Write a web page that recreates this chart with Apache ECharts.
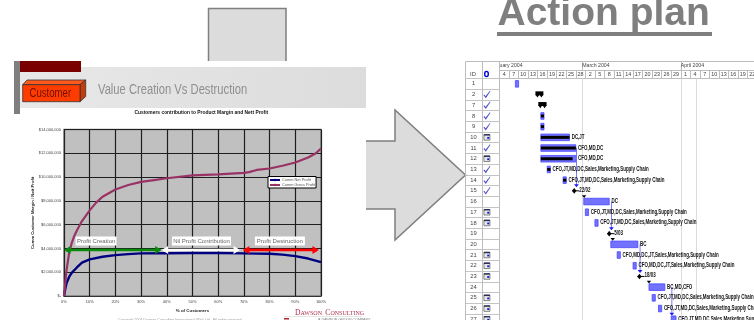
<!DOCTYPE html>
<html>
<head>
<meta charset="utf-8">
<style>html,body{margin:0;padding:0;background:#fff;overflow:hidden}#c{width:754px;height:320px}</style>
<script src="https://cdn.jsdelivr.net/npm/echarts@6/dist/echarts.min.js"></script>
</head>
<body>
<div id="c"></div>
<script>
// Cumulative profit curves (x: % of customers, y: millions of dollars)
const netPct = [0, 0.5, 1, 2, 3, 5, 7, 10, 15, 20, 25, 30, 40, 50, 60, 70, 75, 80, 85, 90, 95, 100];
const netVal = [0, 0.6, 1.1, 1.6, 1.95, 2.4, 2.8, 3.08, 3.3, 3.44, 3.52, 3.58, 3.6, 3.62, 3.62, 3.58, 3.56, 3.55, 3.48, 3.35, 3.15, 2.85];
const grossPct = [0, 1, 2, 3, 4, 5, 7, 10, 12.5, 15, 20, 25, 30, 35, 40, 50, 60, 70, 72, 75, 80, 85, 90, 95, 98, 100];
const grossVal = [0, 2.2, 3.6, 4.45, 5.05, 5.5, 6.3, 7.2, 7.85, 8.35, 8.96, 9.33, 9.6, 9.75, 9.9, 10.14, 10.22, 10.36, 10.42, 10.6, 10.72, 10.95, 11.23, 11.65, 12.0, 12.4];
const moneyTicks = ['$-', '$2,000,000', '$4,000,000', '$6,000,000', '$8,000,000', '$10,000,000', '$12,000,000', '$14,000,000'];

// Profit zones along the curve
const zoneNames = ['Profit Creation', 'Nil Profit Contribution', 'Profit Destruction'];
const zoneFrom = [0, 38, 69.6];
const zoneTo = [38, 68.5, 99.2];
const zoneTextAt = [12.5, 53.5, 84];
const zoneColors = ['#0a8a0a', '#ffffff', '#ff0000'];
const zoneLevel = 3.87;

// Action plan rows and timeline
const rowIds = ['1','2','7','8','9','10','11','12','13','14','15','16','17','18','19','20','21','22','23','24','25','26','27'];
const doneRows = ['2','7','8','9','11','13','14','15'];
const scheduledRows = ['10','12','17','18','21','22','23','25','26','27'];
const dayCells = ['4','7','10','13','16','19','22','25','28','2','5','8','11','14','17','20','23','26','29','1','4','7','10','13','16','19','22'];
const monthNames = ['uary 2004', 'March 2004', 'April 2004'];
const monthStarts = [0, 26, 57];
const markerLines = [26, 57, 62];

const ALL = 'CFO,JT,MD,DC,Sales,Marketing,Supply Chain';
const ALT = 'CFO,MD,DC,JT,Sales,Marketing,Supply Chain';
const taskRows = ['1','8','9','10','11','12','13','14','16','17','18','20','21','22','24','25','26','27'];
const taskStart = [5, 13, 13, 13, 13, 13, 15, 20, 26.5, 27, 30, 35, 37, 42, 47, 48, 50, 54];
const taskEnd = [6, 14, 14, 22, 24, 24, 16, 21, 34.5, 28, 31, 43.5, 38, 43, 52, 49, 51, 55.5];
const taskDone = [0, 14, 14, 22, 24, 23, 16, 21, 0, 0, 0, 0, 0, 0, 0, 0, 0, 0];
const taskOwners = ['', '', '', 'DC,JT', 'CFO,MD,DC', 'CFO,MD,DC', ALL, ALL, 'DC', ALL, ALL, 'BC', ALT, ALT, 'BC,MD,CFO', ALL, ALL, ALL];
const summaryRows = ['2', '7'];
const summaryStart = [11.3, 12.2];
const summaryEnd = [13.8, 14.8];
const milestoneRows = ['15', '19', '23'];
const milestoneDays = [23.5, 34.5, 44];
const milestoneDates = ['22/02', '5/03', '18/03'];
const linkFrom = ['11', '16', '20', '24'];
const linkTo = ['15', '19', '23', '27'];
const linkDay = [24.2, 35.2, 44.2, 54.2];
const successorRows = ['16', '20', '24'];
const successorDays = [26.6, 35.6, 47];

const SANS = '"Liberation Sans",Arial,sans-serif';
const rowIdx = id => rowIds.indexOf(id);
const poly = (points, fill, stroke) => ({ type: 'polygon', shape: { points }, style: { fill, stroke: stroke || null, lineWidth: 1 } });
// Text squeezed horizontally so long resource lists fit the compact schedule
const squeezed = (text, x, y, font, fill, scaleX) => ({
  type: 'text', x, y, scaleX, style: { text, x: 0, y: 0, align: 'left', verticalAlign: 'middle', font, fill }
});

function renderZones(params, api) {
  const i = params.dataIndex;
  const a = api.coord([zoneFrom[i], zoneLevel]);
  const b = api.coord([zoneTo[i], zoneLevel]);
  const c = api.coord([zoneTextAt[i], zoneLevel]);
  const col = zoneColors[i];
  const w = [41, 59, 50][i];
  return { type: 'group', children: [
    { type: 'rect', shape: { x: a[0] + 2, y: a[1] - 1.3, width: b[0] - a[0] - 4, height: 2.6 }, style: { fill: col } },
    poly([[a[0], a[1]], [a[0] + 6.5, a[1] - 4], [a[0] + 6.5, a[1] + 4]], col),
    poly([[b[0], b[1]], [b[0] - 6.5, b[1] - 4], [b[0] - 6.5, b[1] + 4]], col),
    { type: 'rect', shape: { x: c[0] - w / 2, y: c[1] - 13.5, width: w, height: 9 }, style: { fill: '#fff' } },
    { type: 'text', style: { text: zoneNames[i], x: c[0], y: c[1] - 9, align: 'center', verticalAlign: 'middle', font: '6px ' + SANS, fill: '#666' } }
  ] };
}

function renderTasks(params, api) {
  const i = params.dataIndex;
  const s = api.coord([taskStart[i], rowIdx(taskRows[i])]);
  const e = api.coord([taskEnd[i], rowIdx(taskRows[i])]);
  const kids = [{ type: 'rect', shape: { x: s[0], y: s[1] - 3.3, width: e[0] - s[0], height: 6.6 }, style: { fill: '#7272ff', stroke: '#4a4aff', lineWidth: 0.8 } }];
  if (taskDone[i]) {
    const d = api.coord([taskDone[i], rowIdx(taskRows[i])]);
    kids.push({ type: 'rect', shape: { x: s[0], y: s[1] - 1.5, width: d[0] - s[0], height: 3 }, style: { fill: '#000' } });
  }
  if (taskOwners[i]) {
    kids.push(squeezed(taskOwners[i], e[0] + 2.2, s[1] - 0.5, 'bold 7.2px ' + SANS, '#111', 0.62));
  }
  return { type: 'group', children: kids };
}

function renderSummaries(params, api) {
  const i = params.dataIndex;
  const s = api.coord([summaryStart[i], rowIdx(summaryRows[i])]);
  const e = api.coord([summaryEnd[i], rowIdx(summaryRows[i])]);
  const y = s[1];
  return { type: 'group', children: [
    { type: 'rect', shape: { x: s[0], y: y - 3.2, width: e[0] - s[0], height: 4 }, style: { fill: '#000' } },
    poly([[s[0], y], [s[0] + 4, y], [s[0] + 2, y + 3]], '#000'),
    poly([[e[0] - 4, y], [e[0], y], [e[0] - 2, y + 3]], '#000')
  ] };
}

function renderMilestones(params, api) {
  const i = params.dataIndex;
  const p = api.coord([milestoneDays[i], rowIdx(milestoneRows[i])]);
  return { type: 'group', children: [
    { type: 'rect', shape: { x: p[0] - 2, y: p[1] - 0.5, width: 7, height: 1 }, style: { fill: '#000' } },
    poly([[p[0], p[1] - 2.8], [p[0] + 2.2, p[1]], [p[0], p[1] + 2.8], [p[0] - 2.2, p[1]]], '#000'),
    squeezed(milestoneDates[i], p[0] + 5, p[1] - 1, 'bold 7px ' + SANS, '#111', 0.64)
  ] };
}

function renderLinks(params, api) {
  const i = params.dataIndex;
  const a = api.coord([linkDay[i], rowIdx(linkFrom[i])]);
  const b = api.coord([linkDay[i], rowIdx(linkTo[i])]);
  const tip = b[1] - 3.5;
  return { type: 'group', children: [
    { type: 'rect', shape: { x: a[0] - 0.4, y: a[1], width: 0.8, height: tip - a[1] - 2 }, style: { fill: '#5a5aff' } },
    poly([[a[0] - 2.4, tip - 3], [a[0] + 2.4, tip - 3], [a[0], tip]], '#1a1aff')
  ] };
}

function renderSuccessors(params, api) {
  const i = params.dataIndex;
  const p = api.coord([successorDays[i], rowIdx(successorRows[i])]);
  const tip = p[1] - 3.6;
  return poly([[p[0] - 2.2, tip - 2.8], [p[0] + 2.2, tip - 2.8], [p[0], tip]], '#000');
}

function renderCalendars(params, api) {
  const p = api.coord([0.26, rowIdx(scheduledRows[params.dataIndex])]);
  return { type: 'group', children: [
    { type: 'rect', shape: { x: p[0] - 3, y: p[1] - 2.8, width: 6, height: 5.6 }, style: { fill: '#e8e8e8', stroke: '#555', lineWidth: 0.7 } },
    { type: 'rect', shape: { x: p[0] - 3, y: p[1] - 3.2, width: 6, height: 1.4 }, style: { fill: '#2b2b5a' } },
    { type: 'rect', shape: { x: p[0] + 0.3, y: p[1] - 0.4, width: 2, height: 1.8 }, style: { fill: '#1111dd' } }
  ] };
}

const rowsOf = ids => ids.map((_, i) => [i]);
const gantt = { xAxisIndex: 1, yAxisIndex: 1, type: 'custom', clip: false, silent: true };

const chart = echarts.init(document.getElementById('c'), null, { renderer: 'canvas' });
const GREY = '#7f7f7f';
chart.setOption({
  animation: false,
  backgroundColor: '#fff',
  textStyle: { fontFamily: SANS },
  title: {
    text: 'Customers contribution to Product Margin and Nett Profit',
    left: 134.5, top: 110, padding: 0,
    textStyle: { fontSize: 4.9, fontWeight: 'bold', color: '#111', lineHeight: 6 }
  },
  legend: {
    left: 268, top: 176.5, orient: 'vertical', padding: [1.5, 1, 1, 1], itemGap: 1,
    itemWidth: 10, itemHeight: 3, backgroundColor: '#fff', borderColor: '#000', borderWidth: 1,
    textStyle: { fontSize: 3.9, color: '#555', padding: [0, 0, 0, -3] },
    data: ['Cumm Net Profit', 'Cumm Gross Profit']
  },
  grid: [
    { left: 64, top: 129.5, width: 257, height: 166.5, show: true, backgroundColor: '#c0c0c0', borderColor: GREY, borderWidth: 1.5, outerBoundsMode: 'none' },
    { left: 499.5, top: 78.5, width: 257.6, height: 246.1, outerBoundsMode: 'none' },
    { left: 482.5, top: 78.5, width: 17, height: 246.1, outerBoundsMode: 'none' }
  ],
  xAxis: [
    { type: 'value', gridIndex: 0, min: 0, max: 100, interval: 10,
      name: '% of Customers', nameLocation: 'middle', nameGap: 10.5,
      nameTextStyle: { fontSize: 4.4, fontWeight: 'bold', color: '#222' },
      axisLine: { lineStyle: { color: '#333', width: 1 } },
      axisTick: { show: false },
      axisLabel: { fontSize: 4, color: '#444', margin: 4, formatter: v => v + '%' },
      splitLine: { lineStyle: { color: '#1e1e1e', width: 1.2 } } },
    { type: 'value', gridIndex: 1, min: 0, max: 81, show: false },
    { type: 'category', gridIndex: 1, position: 'top', data: dayCells, boundaryGap: true,
      axisLine: { lineStyle: { color: '#bdbdbd', width: 1 } },
      axisTick: { show: true, length: 8, lineStyle: { color: '#bdbdbd' } },
      axisLabel: { interval: 0, fontSize: 5.4, color: '#444', margin: 1.5 } },
    { type: 'value', gridIndex: 1, position: 'top', offset: 8.5, min: 0, max: 81,
      axisLine: { show: true, lineStyle: { color: '#bdbdbd', width: 1 } },
      axisTick: { show: true, length: 8.5, customValues: monthStarts, lineStyle: { color: '#bdbdbd' } },
      axisLabel: { show: true, customValues: monthStarts, align: 'left', margin: 1.5, fontSize: 5.2, color: '#444',
        formatter: v => monthNames[monthStarts.indexOf(v)] },
      splitLine: { show: false } },
    { type: 'value', gridIndex: 2, min: 0, max: 1, show: false }
  ],
  yAxis: [
    { type: 'value', gridIndex: 0, min: 0, max: 14, interval: 2,
      name: 'Cumm Customer Margin / Nett Profit', nameLocation: 'middle', nameGap: 28,
      nameTextStyle: { fontSize: 4.2, fontWeight: 'bold', color: '#222' },
      axisLine: { show: true, lineStyle: { color: '#222' } },
      axisTick: { show: false },
      axisLabel: { fontSize: 4, color: '#444', margin: 3, formatter: v => moneyTicks[v / 2] },
      splitLine: { lineStyle: { color: '#1e1e1e', width: 1.2 } } },
    { type: 'category', gridIndex: 1, inverse: true, data: rowIds, boundaryGap: true,
      axisLine: { show: false },
      axisTick: { show: true, length: 34, lineStyle: { color: '#c4c4c4' } },
      axisLabel: { interval: 0, align: 'center', margin: 26, fontSize: 5.8, color: '#444' } },
    { type: 'category', gridIndex: 2, inverse: true, data: rowIds, show: false }
  ],
  series: [
    { name: 'Cumm Net Profit', type: 'line', xAxisIndex: 0, yAxisIndex: 0, symbol: 'none', z: 3,
      lineStyle: { color: '#000080', width: 2.4 }, itemStyle: { color: '#000080' },
      data: netPct.map((x, i) => [x, netVal[i]]) },
    { name: 'Cumm Gross Profit', type: 'line', xAxisIndex: 0, yAxisIndex: 0, symbol: 'none', z: 3,
      lineStyle: { color: '#993366', width: 2.2 }, itemStyle: { color: '#993366' },
      data: grossPct.map((x, i) => [x, grossVal[i]]) },
    { type: 'custom', xAxisIndex: 0, yAxisIndex: 0, z: 4, clip: false, silent: true, renderItem: renderZones, data: rowsOf(zoneNames) },

    { ...gantt, z: 2, renderItem: renderLinks, data: rowsOf(linkFrom),
      markLine: { silent: true, z: 1, symbol: 'none', label: { show: false }, lineStyle: { color: '#dcdcdc', width: 1, type: 'solid' },
        data: markerLines.map(x => ({ xAxis: x })) } },
    { ...gantt, z: 3, renderItem: renderTasks, data: rowsOf(taskRows) },
    { ...gantt, z: 3, renderItem: renderSummaries, data: rowsOf(summaryRows) },
    { ...gantt, z: 4, renderItem: renderMilestones, data: rowsOf(milestoneRows) },
    { ...gantt, z: 4, renderItem: renderSuccessors, data: rowsOf(successorRows) },

    { type: 'scatter', xAxisIndex: 4, yAxisIndex: 2, silent: true, symbol: 'path://M0 6 L1.2 5 L2.6 7.4 L8 0 L8.6 .6 L3 10 Z', symbolSize: [7, 7.5],
      itemStyle: { color: '#2222bb' }, data: doneRows.map(r => [0.26, rowIdx(r)]) },
    { type: 'custom', xAxisIndex: 4, yAxisIndex: 2, clip: false, silent: true, renderItem: renderCalendars, data: rowsOf(scheduledRows) }
  ],
  graphic: { elements: [
    // box above the slide heading
    { type: 'rect', z: 1, shape: { x: 208.5, y: 8.5, width: 77.5, height: 52.5 }, style: { fill: '#dcdcdc' } },
    { type: 'polyline', z: 1, shape: { points: [[208.5, 61], [208.5, 8.5], [286, 8.5], [286, 61]] }, style: { fill: 'none', stroke: GREY, lineWidth: 1.5 } },
    // slide heading band
    { type: 'rect', z: 1, shape: { x: 14, y: 61, width: 6, height: 53 }, style: { fill: '#7f7f7f' } },
    { type: 'rect', z: 1, shape: { x: 20, y: 67, width: 346, height: 41 },
      style: { fill: new echarts.graphic.LinearGradient(0, 0, 1, 0, [{ offset: 0, color: '#e8e8e8' }, { offset: 1, color: '#dcdcdc' }]) } },
    { type: 'rect', z: 1, shape: { x: 20, y: 61, width: 61, height: 11 }, style: { fill: '#7a0000' } },
    { type: 'polygon', z: 1, shape: { points: [[22.7, 84.7], [27, 80], [85.7, 80], [80, 84.7]] }, style: { fill: '#ff5a1e', stroke: '#333', lineWidth: 0.8 } },
    { type: 'polygon', z: 1, shape: { points: [[80, 84.7], [85.7, 80], [85.7, 96.5], [80, 101.7]] }, style: { fill: '#c43c08', stroke: '#333', lineWidth: 0.8 } },
    { type: 'rect', z: 1, shape: { x: 22.7, y: 84.7, width: 57.3, height: 17 }, style: { fill: '#ff3c00', stroke: '#333', lineWidth: 0.8 } },
    { type: 'text', z: 1, x: 29.5, y: 94, scaleX: 0.8, style: { text: 'Customer', x: 0, y: 0, verticalAlign: 'middle', font: '12px ' + SANS, fill: '#6e1000' } },
    { type: 'text', z: 1, x: 98, y: 90, scaleX: 0.8, style: { text: 'Value Creation Vs Destruction', x: 0, y: 0, verticalAlign: 'middle', font: '14px ' + SANS, fill: '#8f8f8f' } },
    // large transition arrow
    { type: 'polygon', z: 1, shape: { points: [[366, 141], [395, 141], [395, 110], [465.5, 175], [395, 240], [395, 209], [366, 209]] }, style: { fill: '#dcdcdc' } },
    { type: 'polyline', z: 1, shape: { points: [[366, 141], [395, 141], [395, 110], [465.5, 175], [395, 240], [395, 209], [366, 209]] }, style: { fill: 'none', stroke: GREY, lineWidth: 1.5 } },
    // action plan heading
    { type: 'text', z: 1, style: { text: 'Action plan', x: 497.5, y: 14.4, verticalAlign: 'middle', font: 'bold 39px ' + SANS, fill: '#7f7f7f' } },
    { type: 'rect', z: 1, shape: { x: 497, y: 32, width: 215, height: 4 }, style: { fill: '#7f7f7f' } },
    // table frame and header
    { type: 'polyline', z: 1, shape: { points: [[754, 61.5], [465.5, 61.5], [465.5, 320]] }, style: { fill: 'none', stroke: '#bdbdbd', lineWidth: 1 } },
    { type: 'line', z: 1, shape: { x1: 482.5, y1: 61, x2: 482.5, y2: 320 }, style: { stroke: '#bdbdbd', lineWidth: 1 } },
    { type: 'line', z: 1, shape: { x1: 499.5, y1: 61, x2: 499.5, y2: 320 }, style: { stroke: '#bdbdbd', lineWidth: 1 } },
    { type: 'text', z: 1, style: { text: 'ID', x: 473, y: 74.5, align: 'center', verticalAlign: 'middle', font: '5.8px ' + SANS, fill: '#444' } },
    { type: 'ellipse', z: 1, shape: { cx: 486.5, cy: 74, rx: 1.8, ry: 2.6 }, style: { fill: '#fff', stroke: '#0000e0', lineWidth: 1.4 } },
    // consultancy mark and copyright line
    { type: 'text', z: 1, style: { x: 295, y: 313, verticalAlign: 'middle',
      text: '{a|D}{b|AWSON} {a|C}{b|ONSULTING}',
      rich: { a: { font: '7.6px "Liberation Serif",serif', fill: '#b03050' }, b: { font: '6px "Liberation Serif",serif', fill: '#b03050' } } } },
    { type: 'rect', z: 1, shape: { x: 284, y: 316.5, width: 78, height: 0.6 }, style: { fill: '#d0d0d0' } },
    { type: 'rect', z: 1, shape: { x: 284, y: 318, width: 5, height: 1.5 }, style: { fill: '#b02030' } },
    { type: 'text', z: 1, style: { text: 'A DAWSON GROUP COMPANY', x: 318, y: 320, verticalAlign: 'middle', font: '3.6px ' + SANS, fill: '#777' } },
    { type: 'text', z: 1, style: { text: 'Copyright 2004 Dawson Consulting International (Pty) Ltd.  All rights reserved.', x: 118, y: 319.5, verticalAlign: 'middle', font: '3.6px ' + SANS, fill: '#999' } }
  ] }
});
</script>
</body>
</html>
